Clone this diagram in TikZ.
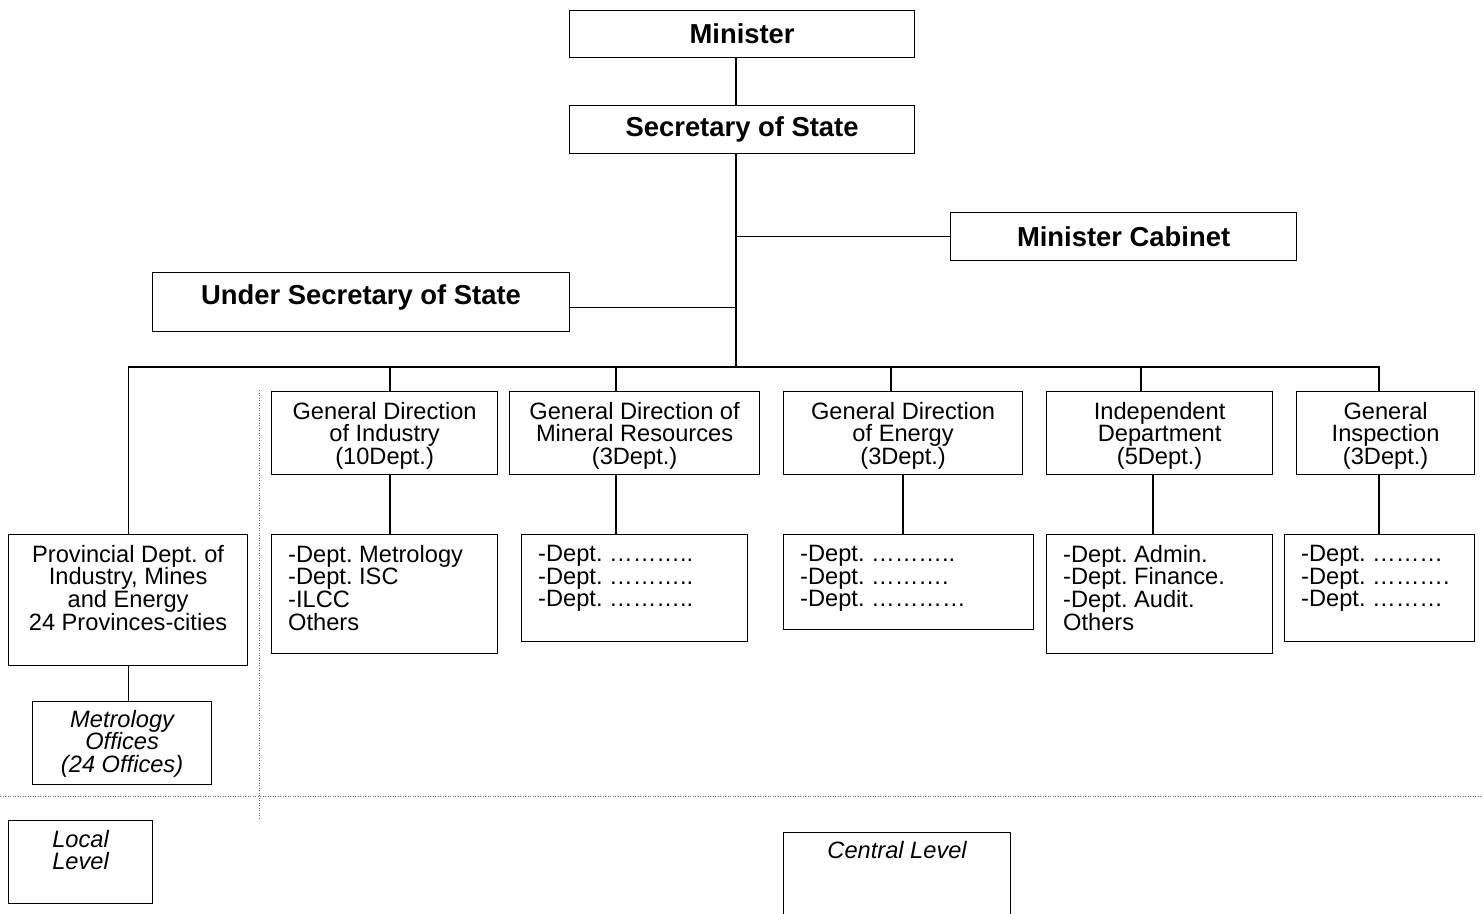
\documentclass[tikz,border=0pt]{standalone}
\usepackage{fontspec}
\setmainfont{Liberation Sans}
\frenchspacing
\begin{document}
\begin{tikzpicture}[x=1pt,y=-1pt,
  box/.style={draw, line width=1.2pt, inner sep=0pt, anchor=north west},
  hd/.style={font=\fontsize{27.4}{30}\selectfont\bfseries},
  tx/.style={inner sep=0pt, font=\fontsize{23.65}{22.6}\selectfont, align=center, anchor=north},
  lt/.style={tx, align=left, anchor=north west},
  itx/.style={tx, font=\fontsize{23.65}{22.6}\selectfont\itshape},
  ln/.style={line width=1.2pt},
  dl/.style={line width=0.9pt, black!60, dash pattern=on 0.9pt off 1.6pt}]
\useasboundingbox (0,0) rectangle (1483,913);

% top boxes
\node[box,hd,minimum width=345pt,minimum height=47pt] (min) at (569,10) {Minister};
\node[box,hd,minimum width=345pt,minimum height=48pt] (sec) at (569,105) {Secretary of State};
\node[box,hd,minimum width=346pt,minimum height=48pt] (cab) at (950,212) {Minister Cabinet};
\node[box,minimum width=417pt,minimum height=59pt] (usec) at (152,272) {};
\node[hd,inner sep=0pt] (usect) at ([yshift=5pt]usec.center) {Under Secretary of State};

% header row
\node[box,minimum width=226pt,minimum height=83pt] (gdi) at (271,391) {};
\node[box,minimum width=250pt,minimum height=83pt] (gdm) at (509,391) {};
\node[box,minimum width=239pt,minimum height=83pt] (gde) at (783,391) {};
\node[box,minimum width=226pt,minimum height=83pt] (ind) at (1046,391) {};
\node[box,minimum width=178pt,minimum height=83pt] (gin) at (1296,391) {};
\node[tx] (gdit) at ([yshift=-11pt]gdi.north) {General Direction\\of Industry\\(10Dept.)};
\node[tx] (gdmt) at ([yshift=-11pt]gdm.north) {General Direction of\\Mineral Resources\\(3Dept.)};
\node[tx] (gdet) at ([yshift=-11pt]gde.north) {General Direction\\of Energy\\(3Dept.)};
\node[tx] (indt) at ([yshift=-11pt]ind.north) {Independent\\Department\\(5Dept.)};
\node[tx] (gint) at ([yshift=-11pt]gin.north) {General\\Inspection\\(3Dept.)};

% second row
\node[box,minimum width=239pt,minimum height=131pt] (prov) at (8,534) {};
\node[box,minimum width=226pt,minimum height=119pt] (li) at (271,534) {};
\node[box,minimum width=226pt,minimum height=107pt] (lm) at (521,534) {};
\node[box,minimum width=250pt,minimum height=95pt] (le) at (783,534) {};
\node[box,minimum width=226pt,minimum height=119pt] (lid) at (1046,534) {};
\node[box,minimum width=190pt,minimum height=107pt] (lin) at (1284,534) {};
\node[tx] (provt) at ([yshift=-11pt]prov.north) {Provincial Dept. of\\Industry, Mines\\and Energy\\24 Provinces-cities};
\node[lt] (lit) at ([xshift=17pt,yshift=-11pt]li.north west) {-Dept. Metrology\\-Dept. ISC\\-ILCC\\Others};
\node[lt] (lmt) at ([xshift=17pt,yshift=-11pt]lm.north west) {-Dept. ………..\\-Dept. ………..\\-Dept. ………..};
\node[lt] (let) at ([xshift=17pt,yshift=-11pt]le.north west) {-Dept. ………..\\-Dept. ……….\\-Dept. …………};
\node[lt] (lidt) at ([xshift=17pt,yshift=-11pt]lid.north west) {-Dept. Admin.\\-Dept. Finance.\\-Dept. Audit.\\Others};
\node[lt] (lint) at ([xshift=17pt,yshift=-11pt]lin.north west) {-Dept. ………\\-Dept. ……….\\-Dept. ………};

% metrology and level boxes
\node[box,minimum width=179pt,minimum height=83pt] (met) at (32,701) {};
\node[itx] (mett) at ([yshift=-9pt]met.north) {Metrology\\Offices\\(24 Offices)};
\node[box,minimum width=144pt,minimum height=83pt] (loc) at (8,820) {};
\node[itx] (loct) at ([yshift=-10pt]loc.north) {Local\\Level};
\node[box,minimum width=227pt,minimum height=100pt] (cen) at (783,832) {};
\node[itx] (cent) at ([yshift=-9pt]cen.north) {Central Level};

% connectors
\coordinate (tr) at (736,367);
\coordinate (busR) at (1379,367);
\draw[ln] (min.south -| tr) -- (sec.north -| tr);
\draw[ln] (sec.south -| tr) -- (tr);
\draw[ln] (cab.west) -- (cab.west -| tr);
\draw[ln] ([yshift=-5.5pt]usec.east) -- ([yshift=-5.5pt]usec.east -| tr);
\draw[ln] (prov.north) |- (busR) -- (busR |- gin.north);
\coordinate (d1) at (390,367);
\coordinate (d2) at (616,367);
\coordinate (d3) at (891,367);
\coordinate (d4) at (1141,367);
\draw[ln] (d1) -- (d1 |- gdi.north);
\draw[ln] (d2) -- (d2 |- gdm.north);
\draw[ln] (d3) -- (d3 |- gde.north);
\draw[ln] (d4) -- (d4 |- ind.north);
\coordinate (e1) at (390,474);
\coordinate (e2) at (616,474);
\coordinate (e3) at (903,474);
\coordinate (e4) at (1153,474);
\coordinate (e5) at (1379,474);
\draw[ln] (e1 |- gdi.south) -- (e1 |- li.north);
\draw[ln] (e2 |- gdm.south) -- (e2 |- lm.north);
\draw[ln] (e3 |- gde.south) -- (e3 |- le.north);
\draw[ln] (e4 |- ind.south) -- (e4 |- lid.north);
\draw[ln] (e5 |- gin.south) -- (e5 |- lin.north);
\draw[ln] (prov.south) -- (prov.south |- met.north);

% level separators
\draw[dl] (0,796) -- (1483,796);
\draw[dl] (259,390) -- (259,818);
\end{tikzpicture}
\end{document}
